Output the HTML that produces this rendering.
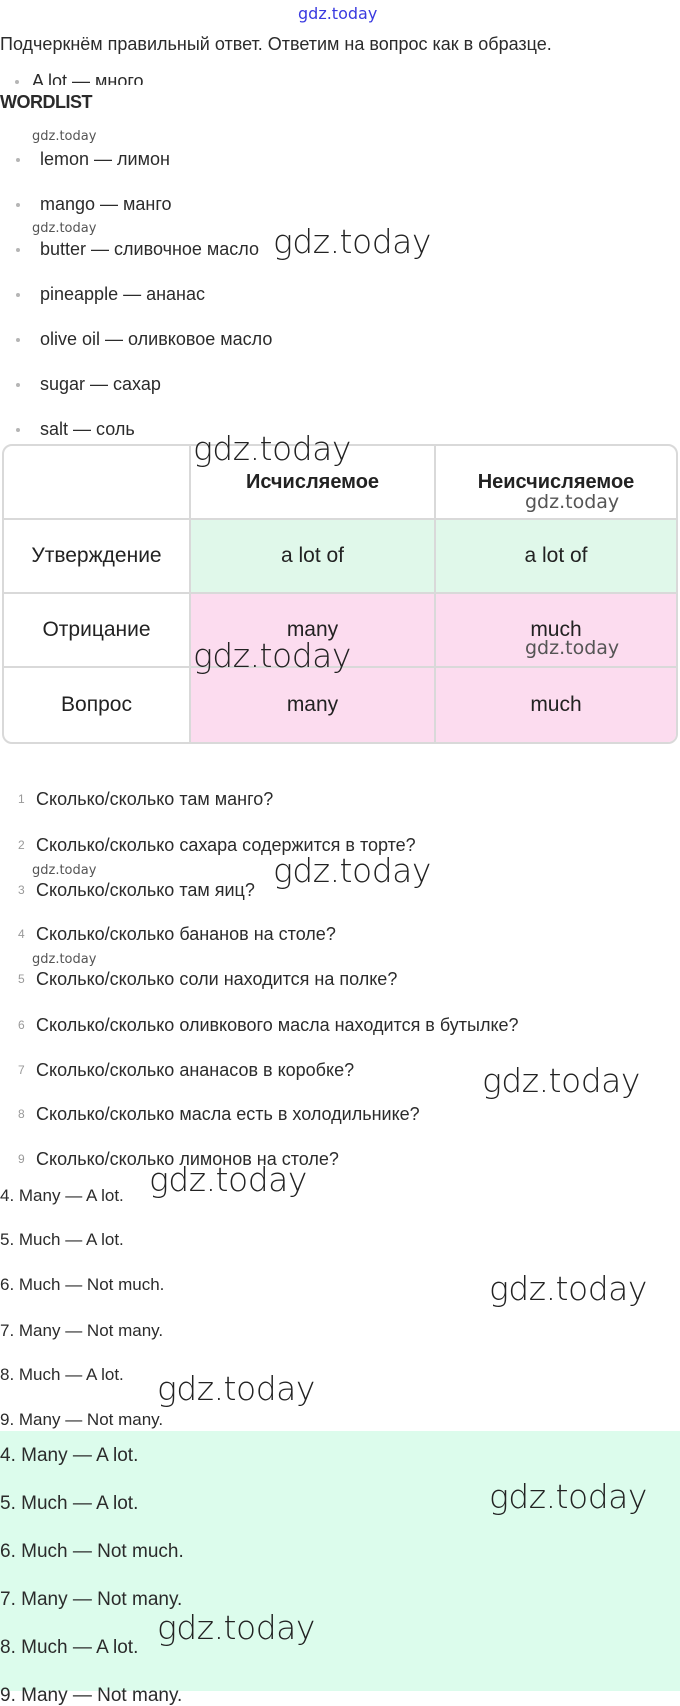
<!DOCTYPE html>
<html><head><meta charset="utf-8">
<style>
*{margin:0;padding:0;box-sizing:border-box}
body{width:680px;height:1689px;overflow:hidden;background:#fff;position:relative;font-family:"Liberation Sans","DejaVu Sans",sans-serif;color:#2b2b2b}
.t{position:absolute;font-size:18px;line-height:20px;white-space:nowrap}
.b{position:absolute;width:4px;height:4px;background:#b5b5b5;border-radius:50%}
.n{position:absolute;font-size:12px;color:#999;line-height:20px}
.wm{position:absolute;font-family:"DejaVu Sans",sans-serif;font-weight:200;font-size:33px;line-height:36px;color:#222;white-space:nowrap;letter-spacing:-0.5px}
.ws{position:absolute;font-family:"DejaVu Sans",sans-serif;font-size:13px;line-height:16px;color:#555;white-space:nowrap}
table{position:absolute;left:2px;top:444px;width:676px;border-collapse:separate;border-spacing:0;border:2px solid #d9d9d9;border-radius:10px;overflow:hidden}
td{border-right:2px solid #d9d9d9;border-bottom:2px solid #d9d9d9;text-align:center;font-size:21px;height:74px;color:#222}
td:last-child{border-right:none}
tr:last-child td{border-bottom:none}
.g{background:#e0f8ea}.p{background:#fcdcef}
.green{position:absolute;left:0;top:1431px;width:680px;height:260px;background:#dcfcec}
.gr{font-size:19px}
</style></head><body>
<div class="ws" style="left:298px;top:4px;color:#3a3ae0;font-size:16px;line-height:20px">gdz.today</div>
<div class="t" style="left:0;top:34px">Подчеркнём правильный ответ. Ответим на вопрос как в образце.</div>
<div style="position:absolute;left:0;top:68px;width:400px;height:17px;overflow:hidden"><div class="b" style="left:15px;top:12px"></div><div class="t" style="left:32px;top:3px">A lot — много</div></div>
<div class="t" style="left:0;top:92px;font-weight:bold;font-size:18px;letter-spacing:-0.5px">WORDLIST</div>

<div class="ws" style="left:32px;top:129px">gdz.today</div>
<div class="b" style="left:16px;top:158px"></div><div class="t" style="left:40px;top:149px">lemon — лимон</div>
<div class="b" style="left:16px;top:203px"></div><div class="t" style="left:40px;top:194px">mango — манго</div>
<div class="ws" style="left:32px;top:221px">gdz.today</div>
<div class="b" style="left:16px;top:248px"></div><div class="t" style="left:40px;top:239px">butter — сливочное масло</div>
<div class="wm" style="left:273px;top:224px">gdz.today</div>
<div class="b" style="left:16px;top:293px"></div><div class="t" style="left:40px;top:284px">pineapple — ананас</div>
<div class="b" style="left:16px;top:338px"></div><div class="t" style="left:40px;top:329px">olive oil — оливковое масло</div>
<div class="b" style="left:16px;top:383px"></div><div class="t" style="left:40px;top:374px">sugar — сахар</div>
<div class="b" style="left:16px;top:428px"></div><div class="t" style="left:40px;top:419px">salt — соль</div>

<table>
<tr><td style="width:187px;"></td><td style="width:245px;font-weight:bold;font-size:20px">Исчисляемое</td><td style="font-weight:bold;font-size:20px">Неисчисляемое</td></tr>
<tr><td>Утверждение</td><td class="g">a lot of</td><td class="g">a lot of</td></tr>
<tr><td>Отрицание</td><td class="p">many</td><td class="p">much</td></tr>
<tr><td>Вопрос</td><td class="p">many</td><td class="p">much</td></tr>
</table>
<div class="wm" style="left:193px;top:431px">gdz.today</div>
<div class="wm" style="left:193px;top:638px">gdz.today</div>
<div class="ws" style="left:525px;top:491px;font-size:19px;line-height:22px">gdz.today</div>
<div class="ws" style="left:525px;top:637px;font-size:19px;line-height:22px">gdz.today</div>

<div class="n" style="left:18px;top:789px">1</div><div class="t" style="left:36px;top:789px">Сколько/сколько там манго?</div>
<div class="n" style="left:18px;top:835px">2</div><div class="t" style="left:36px;top:835px">Сколько/сколько сахара содержится в торте?</div>
<div class="ws" style="left:32px;top:863px">gdz.today</div>
<div class="wm" style="left:273px;top:853px">gdz.today</div>
<div class="n" style="left:18px;top:880px">3</div><div class="t" style="left:36px;top:880px">Сколько/сколько там яиц?</div>
<div class="n" style="left:18px;top:924px">4</div><div class="t" style="left:36px;top:924px">Сколько/сколько бананов на столе?</div>
<div class="ws" style="left:32px;top:952px">gdz.today</div>
<div class="n" style="left:18px;top:969px">5</div><div class="t" style="left:36px;top:969px">Сколько/сколько соли находится на полке?</div>
<div class="n" style="left:18px;top:1015px">6</div><div class="t" style="left:36px;top:1015px">Сколько/сколько оливкового масла находится в бутылке?</div>
<div class="n" style="left:18px;top:1060px">7</div><div class="t" style="left:36px;top:1060px">Сколько/сколько ананасов в коробке?</div>
<div class="wm" style="left:482px;top:1063px">gdz.today</div>
<div class="n" style="left:18px;top:1104px">8</div><div class="t" style="left:36px;top:1104px">Сколько/сколько масла есть в холодильнике?</div>
<div class="n" style="left:18px;top:1149px">9</div><div class="t" style="left:36px;top:1149px">Сколько/сколько лимонов на столе?</div>
<div class="wm" style="left:149px;top:1162px">gdz.today</div>

<div class="t" style="left:0;top:1186px;font-size:17px">4. Many — A lot.</div>
<div class="t" style="left:0;top:1230px;font-size:17px">5. Much — A lot.</div>
<div class="t" style="left:0;top:1275px;font-size:17px">6. Much — Not much.</div>
<div class="wm" style="left:489px;top:1271px">gdz.today</div>
<div class="t" style="left:0;top:1321px;font-size:17px">7. Many — Not many.</div>
<div class="t" style="left:0;top:1365px;font-size:17px">8. Much — A lot.</div>
<div class="wm" style="left:157px;top:1371px">gdz.today</div>
<div class="t" style="left:0;top:1410px;font-size:17px">9. Many — Not many.</div>

<div class="green"></div>
<div class="t gr" style="left:0;top:1446px">4. Many — A lot.</div>
<div class="t gr" style="left:0;top:1494px">5. Much — A lot.</div>
<div class="wm" style="left:489px;top:1479px">gdz.today</div>
<div class="t gr" style="left:0;top:1542px">6. Much — Not much.</div>
<div class="t gr" style="left:0;top:1590px">7. Many — Not many.</div>
<div class="wm" style="left:157px;top:1610px">gdz.today</div>
<div class="t gr" style="left:0;top:1638px">8. Much — A lot.</div>
<div class="t gr" style="left:0;top:1686px">9. Many — Not many.</div>
</body></html>
